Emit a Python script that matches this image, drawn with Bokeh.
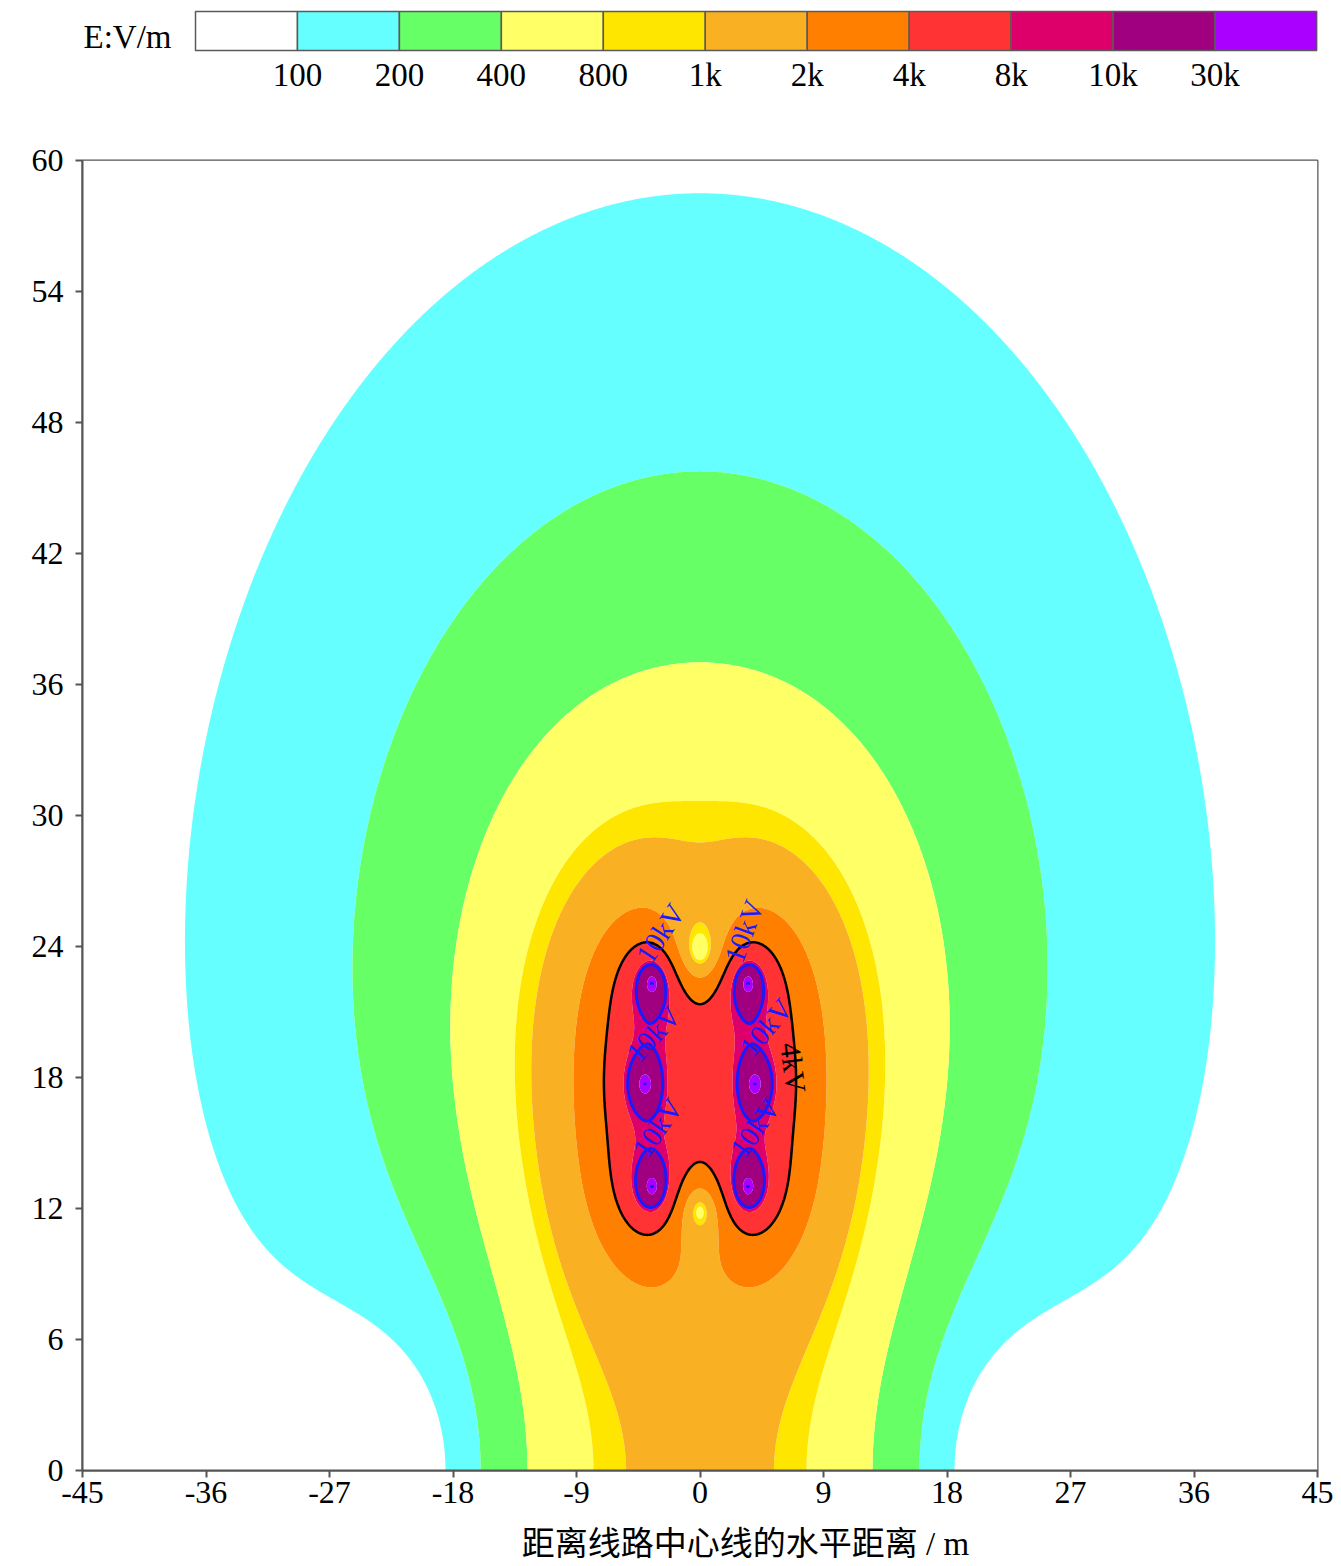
import numpy as np
from bokeh.plotting import figure
from bokeh.layouts import column
from bokeh.models import Range1d, FixedTicker
from bokeh.core.properties import value
from bokeh.embed import file_html
from bokeh.resources import INLINE

# ---------------- data ----------------
# conductor positions (m) and phase angles (deg), double circuit, same phasing
cond_x = [-3.5, -4.0, -3.5, 3.5, 4.0, 3.5]
cond_y = [22.3, 17.7, 13.0, 22.3, 17.7, 13.0]
cond_phase = [0.0, -120.0, 120.0, 0.0, -120.0, 120.0]
line_kv = 220.0
bundle_radius = 0.1
# point where the 100 V/m boundary crosses the centre line (top of the field)
iso100_point = (0.0, 58.5)

# colour scale
level_values = [100, 200, 400, 800, 1000, 2000, 4000, 8000, 10000, 30000]
level_labels = ["100", "200", "400", "800", "1k", "2k", "4k", "8k", "10k", "30k"]
band_colors = ["#FFFFFF", "#66FFFF", "#66FF66", "#FFFF66", "#FFE600", "#FAB023",
               "#FF8000", "#FF3333", "#DE006A", "#A0007F", "#AA00FF"]

# contour labels
lab_x = [-2.9, -3.4, -3.1, 3.2, 4.8, 4.0, 6.8]
lab_y = [24.6, 20.0, 15.7, 24.7, 20.3, 15.7, 18.45]
lab_text = ["10kV", "10kV", "10kV", "10kV", "10kV", "10kV", "4kV"]
lab_angle = [57, 47, 55, 70, 50, 55, -83]
lab_color = ["#1A1AFF"] * 6 + ["#000000"]

x_ticks = list(range(-45, 46, 9))
y_ticks = list(range(0, 61, 6))
x_title = "距离线路中心线的水平距离 / m"

# ---------------- field computation (line charges + ground images) ----------------
cx = np.array(cond_x)
cy = np.array(cond_y)
n = len(cx)
vph = line_kv * 1000 / np.sqrt(3) * np.exp(1j * np.deg2rad(np.array(cond_phase)))
P = np.zeros((n, n))
for i in range(n):
    for j in range(n):
        if i == j:
            P[i, j] = np.log(2 * cy[i] / bundle_radius)
        else:
            d = np.hypot(cx[i] - cx[j], cy[i] - cy[j])
            dimg = np.hypot(cx[i] - cx[j], cy[i] + cy[j])
            P[i, j] = np.log(dimg / d)
q = np.linalg.solve(P.astype(complex), vph)


def efield(X, Y):
    Ex = np.zeros(np.shape(X), dtype=complex)
    Ey = np.zeros(np.shape(X), dtype=complex)
    for i in range(n):
        dx = X - cx[i]
        dy1 = Y - cy[i]
        dy2 = Y + cy[i]
        r1 = np.maximum(dx * dx + dy1 * dy1, 0.01)
        r2 = dx * dx + dy2 * dy2
        Ex += q[i] * (dx / r1 - dx / r2)
        Ey += q[i] * (dy1 / r1 - dy2 / r2)
    return np.sqrt(np.abs(Ex) ** 2 + np.abs(Ey) ** 2)


scale = 100.0 / efield(np.array(iso100_point[0]), np.array(iso100_point[1]))
gx = np.linspace(-45, 45, 901)
gy = np.linspace(0, 60, 601)
GX, GY = np.meshgrid(gx, gy)
E = efield(GX, GY) * scale
Z = np.log10(np.maximum(E, 1e-3))
levels = [float(Z.min()) - 0.01] + [float(np.log10(v)) for v in level_values] + [float(Z.max()) + 0.01]

SERIF = "Liberation Serif"
FL, FR = 82, 1317          # frame left / right in page pixels (shared by all strips)

# ---------------- legend strip ----------------
leg = figure(width=1341, height=110, x_range=Range1d(FL, FR), y_range=Range1d(110, 0),
             min_border_left=FL, min_border_right=1341 - FR, min_border_top=0, min_border_bottom=0,
             toolbar_location=None, output_backend="svg")
leg.axis.visible = False
leg.grid.visible = False
leg.outline_line_color = None
bar_left, bar_right, bar_top, bar_bottom = 195.0, 1316.5, 11.0, 50.0
cw = (bar_right - bar_left) / len(band_colors)
lefts = [bar_left + i * cw for i in range(len(band_colors))]
leg.quad(left=lefts, right=[l + cw for l in lefts], top=bar_top, bottom=bar_bottom,
         fill_color=band_colors, line_color="#5a5a5a", line_width=1.5)
leg.text(x=[bar_left + (i + 1) * cw for i in range(len(level_labels))], y=[74] * len(level_labels),
         text=level_labels, text_align="center", text_baseline="middle",
         text_font=value(SERIF), text_font_size="33px", text_color="#000000")
leg.text(x=[171], y=[36], text=["E:V/m"], text_align="right", text_baseline="middle",
         text_font=value(SERIF), text_font_size="33px", text_color="#000000")

# ---------------- main contour figure ----------------
p = figure(x_range=Range1d(-45, 45), y_range=Range1d(0, 60),
           frame_width=FR - FL, frame_height=1310,
           min_border_left=FL, min_border_right=1341 - FR, min_border_top=50, min_border_bottom=46,
           toolbar_location=None, output_backend="svg")
p.grid.visible = False
p.contour(gx, gy, Z, levels=levels, fill_color=band_colors, line_color=None)
p.contour(gx, gy, Z, levels=[float(np.log10(4000))], line_color="#000000", line_width=2.5)
p.contour(gx, gy, Z, levels=[float(np.log10(10000))], line_color="#1A1AFF", line_width=3)

p.text(x=lab_x, y=lab_y, text=lab_text, angle=lab_angle, angle_units="deg",
       text_color=lab_color, text_align="center", text_baseline="middle",
       text_font=value(SERIF), text_font_size="29px")

p.outline_line_color = "#555555"
p.outline_line_width = 2
for ax in (p.xaxis[0], p.yaxis[0]):
    ax.axis_line_color = "#555555"
    ax.axis_line_width = 2
    ax.major_tick_line_color = "#555555"
    ax.major_tick_line_width = 2
    ax.major_tick_out = 7
    ax.major_tick_in = 0
    ax.minor_tick_line_color = None
    ax.major_label_text_font = SERIF
    ax.major_label_text_font_size = "32px"
    ax.major_label_text_color = "#000000"
p.xaxis[0].ticker = FixedTicker(ticks=x_ticks)
p.yaxis[0].ticker = FixedTicker(ticks=y_ticks)
p.xaxis[0].major_label_overrides = {t: str(t) for t in x_ticks}
p.yaxis[0].major_label_overrides = {t: str(t) for t in y_ticks}
p.xaxis[0].major_label_standoff = 4
p.yaxis[0].major_label_standoff = 12

# ---------------- x-axis title strip ----------------
tit = figure(width=1341, height=50, x_range=Range1d(FL, FR), y_range=Range1d(50, 0),
             min_border_left=FL, min_border_right=1341 - FR, min_border_top=0, min_border_bottom=0,
             toolbar_location=None, output_backend="svg")
tit.axis.visible = False
tit.grid.visible = False
tit.outline_line_color = None
tit.text(x=[745], y=[27], text=[x_title], text_align="center", text_baseline="middle",
         text_font=value("Liberation Serif, Noto Sans CJK SC"), text_font_size="33px",
         text_color="#000000")

layout = column(leg, p, tit, spacing=0)
open("out.html", "w").write(file_html(layout, INLINE))
